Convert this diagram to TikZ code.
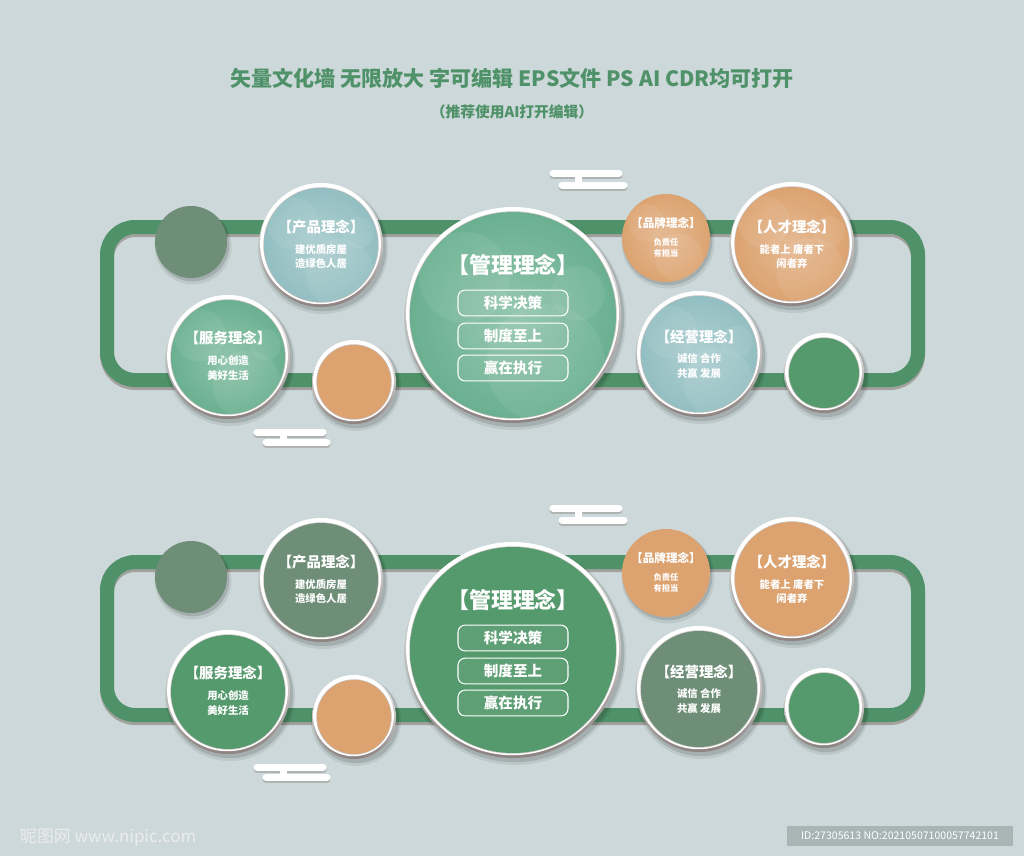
\documentclass[tikz,border=0pt]{standalone}
\usepackage{fontspec}
\setmainfont{Noto Sans CJK SC}
\usetikzlibrary{positioning}

\definecolor{paper}{HTML}{CCD8D9}
\definecolor{track}{HTML}{4F9168}
\definecolor{sage}{HTML}{6E8E78}
\definecolor{leaf}{HTML}{559A6D}
\definecolor{mint}{HTML}{6AB090}
\definecolor{frost}{HTML}{93BFC2}
\definecolor{peach}{HTML}{DCA370}
\definecolor{rim}{HTML}{8C8280}
\definecolor{soil}{HTML}{6F5F55}
\definecolor{stamp}{HTML}{A9B4B4}

% ringed disc: x, y, radius, inner colour, outer colour, glow opacity
\newcommand{\ringdisc}[6]{%
  \fill[black,opacity=.07] (#1+2,#2+4) circle (#3+3);
  \fill[black,opacity=.12] (#1+2,#2+3) circle (#3+1.2);
  \shade[top color=white,bottom color=rim] (#1,#2) circle (#3);
  \fill[white] (#1-.5,#2-1.2) circle (#3-1.6);
  \fill[rim!50] (#1,#2) circle (#3-4.3);
  \shade[inner color=#4,outer color=#5] (#1,#2) circle (#3-5);
  \begin{scope}
    \clip (#1,#2) circle (#3-5);
    \fill[white,opacity=#6] (#1-.45*#3,#2-.35*#3) circle (.42*#3);
    \fill[white,opacity=#6] (#1+.3*#3,#2+.45*#3) circle (.55*#3);
    \fill[white,opacity=#6] (#1+.6*#3,#2-.2*#3) circle (.25*#3);
  \end{scope}}

% disc with no rim: x, y, radius, inner colour, outer colour, glow opacity
\newcommand{\flatdisc}[6]{%
  \fill[black,opacity=.07] (#1+2,#2+4) circle (#3+2.5);
  \fill[black,opacity=.13] (#1+1.5,#2+2.5) circle (#3+.8);
  \shade[inner color=#4,outer color=#5] (#1,#2) circle (#3);
  \begin{scope}
    \clip (#1,#2) circle (#3);
    \fill[white,opacity=#6] (#1-.45*#3,#2-.35*#3) circle (.42*#3);
    \fill[white,opacity=#6] (#1+.3*#3,#2+.45*#3) circle (.55*#3);
  \end{scope}}

\begin{document}
\begin{tikzpicture}[x=0.02cm, y=-0.02cm, line cap=round, line join=round,
    head/.style={text=white, font=\bfseries\fontsize{8.2}{9}\selectfont},
    motto/.style={text=white, align=center, font=\bfseries\fontsize{5.9}{8.5}\selectfont},
    pill/.style={draw=white, line width=.6pt, rounded corners=4pt, fill=white,
      fill opacity=.06, text opacity=1, text=white, minimum width=2.2cm,
      minimum height=.47cm, font=\bfseries\fontsize{8.3}{9}\selectfont},
    bar/.style={line width=.14cm, white},
    barshade/.style={line width=.14cm, soil, opacity=.3}]

  \fill[paper] (0,0) rectangle (1024,856);
  \useasboundingbox (0,0) rectangle (1024,856);

  % heading
  \node[text=track, font=\bfseries\fontsize{12}{14}\selectfont] (title) at (512,78)
    {矢量文化墙 无限放大 字可编辑 EPS文件 PS AI CDR均可打开};
  \node[text=track, font=\bfseries\fontsize{8.4}{10}\selectfont] (hint) at (512,112)
    {（推荐使用AI打开编辑）};

  % two panels, the upper one with soft glow
  \foreach \dy/\cp/\cs/\mx/\gl [count=\k] in
      {0/frost/mint/75/.07, 335/sage/leaf/100/0}{
    % track
    \draw[soil, opacity=.45, line width=.28cm, rounded corners=.56cm]
      (107,230+\dy) rectangle (918,383+\dy);
    \draw[track, line width=.28cm, rounded corners=.56cm]
      (107,227+\dy) rectangle (918,380+\dy);

    % bars
    \draw[barshade] (553,175.5+\dy) -- (619,175.5+\dy) (562,187.5+\dy) -- (624,187.5+\dy);
    \draw[bar] (553,173+\dy) -- (619,173+\dy) (562,185+\dy) -- (624,185+\dy)
      (578,175+\dy) -- (578,184+\dy);
    \draw[barshade] (257,434.5+\dy) -- (323,434.5+\dy) (266,444.5+\dy) -- (327,444.5+\dy);
    \draw[bar] (257,432+\dy) -- (323,432+\dy) (266,442+\dy) -- (327,442+\dy)
      (283,434+\dy) -- (283,441+\dy);

    % discs
    \flatdisc{191}{242+\dy}{36}{sage}{sage}{0}
    \ringdisc{321}{245+\dy}{62}{\cp!\mx!white}{\cp}{\gl}
    \ringdisc{228}{357+\dy}{62}{\cs!\mx!white}{\cs}{\gl}
    \ringdisc{354}{382+\dy}{42}{peach}{peach}{0}
    \ringdisc{513}{315+\dy}{108}{\cs!\mx!white}{\cs}{\gl}
    \flatdisc{666}{238+\dy}{44}{peach!\mx!white}{peach}{\gl}
    \ringdisc{792}{244+\dy}{62}{peach!\mx!white}{peach}{\gl}
    \ringdisc{699}{354+\dy}{63}{\cp!\mx!white}{\cp}{\gl}
    \ringdisc{824}{373+\dy}{40}{leaf}{leaf}{0}

    % texts
    \node[head] (prod\k) at (321,227+\dy) {【产品理念】};
    \node[motto] (prodtxt\k) at (321,256.5+\dy) {建优质房屋\\造绿色人居};
    \node[head] (serv\k) at (228,338+\dy) {【服务理念】};
    \node[motto] (servtxt\k) at (228,368+\dy) {用心创造\\美好生活};
    \node[head, font=\bfseries\fontsize{12.5}{14}\selectfont] (mgmt\k) at (513,265+\dy) {【管理理念】};
    \node[pill] (sci\k) at (513,303+\dy) {科学决策};
    \node[pill] (rule\k) at (513,336+\dy) {制度至上};
    \node[pill] (act\k) at (513,368+\dy) {赢在执行};
    \node[head, font=\bfseries\fontsize{6.6}{7}\selectfont] (brand\k) at (666,223+\dy) {【品牌理念】};
    \node[motto, font=\bfseries\fontsize{4.7}{6.2}\selectfont] (brandtxt\k) at (666,247.5+\dy) {负责任\\有担当};
    \node[head] (talent\k) at (792,227+\dy) {【人才理念】};
    \node[motto] (talenttxt\k) at (792,256.5+\dy) {能者上 庸者下\\闲者弃};
    \node[head] (biz\k) at (699,337+\dy) {【经营理念】};
    \node[motto] (biztxt\k) at (699,366+\dy) {诚信 合作\\共赢 发展};
  }

  % watermark and stamp
  \node[anchor=west, text=white!85!gray, font=\fontsize{9.6}{12}\selectfont] (mark) at (14,838)
    {昵图网 www.nipic.com};
  \node[fill=stamp, text=white, minimum width=4.52cm, minimum height=.4cm,
    font=\fontsize{6}{7}\selectfont] (stampid) at (900,836)
    {ID:27305613 NO:20210507100057742101};
\end{tikzpicture}
\end{document}
